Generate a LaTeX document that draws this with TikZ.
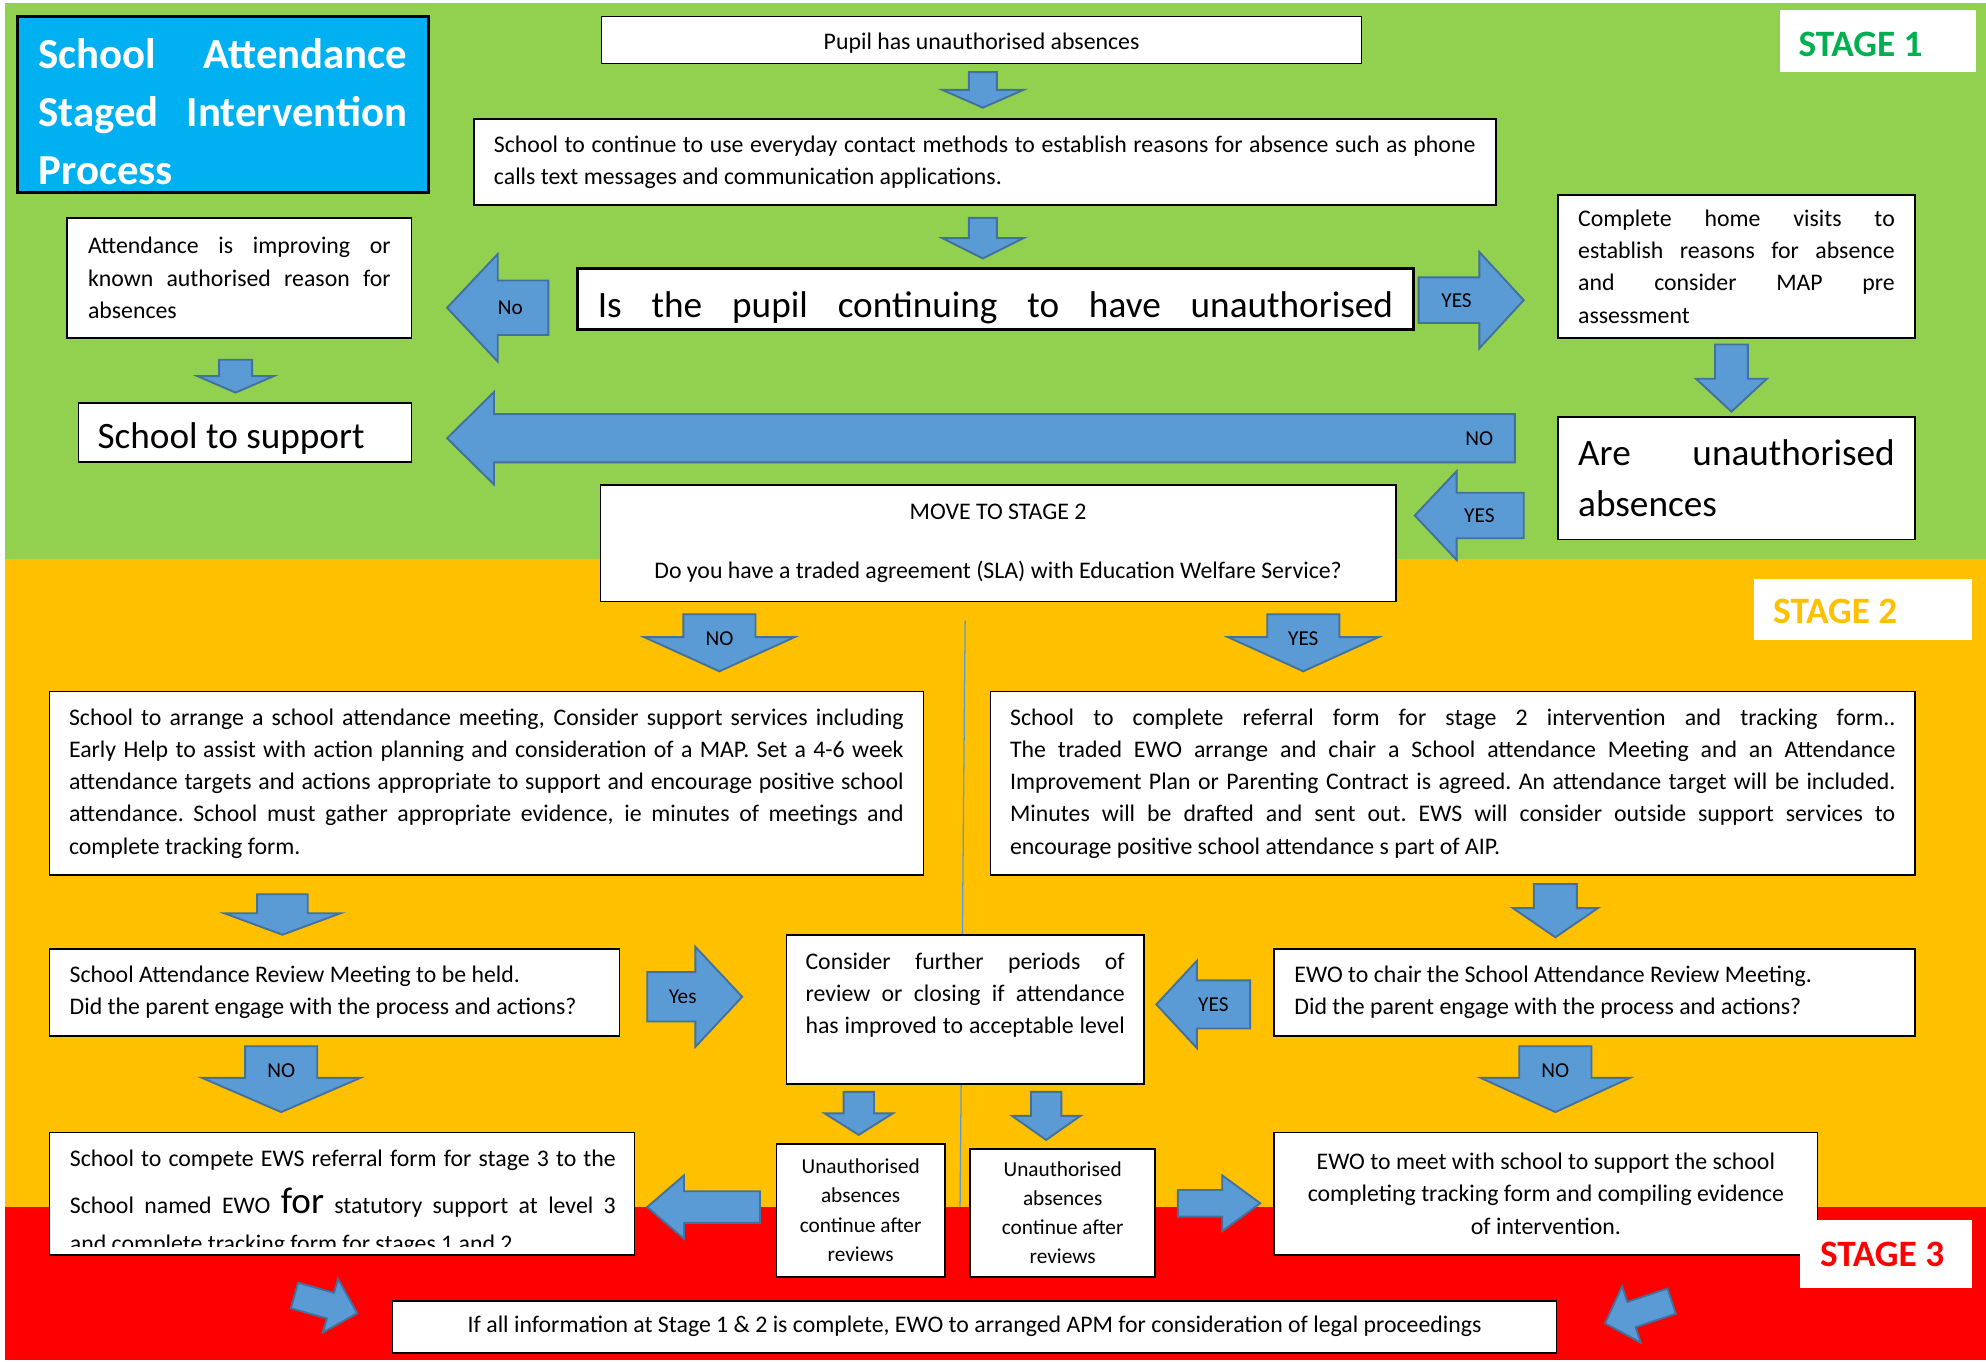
\documentclass[tikz,border=0pt]{standalone}
\usepackage{fontspec}
\setmainfont{Carlito}
\definecolor{bggreen}{HTML}{92D050}
\definecolor{bgorange}{HTML}{FFC000}
\definecolor{bgred}{HTML}{FF0000}
\definecolor{titleblue}{HTML}{00B0F0}
\definecolor{arrowfill}{HTML}{5B9BD5}
\definecolor{arrowline}{HTML}{41719C}
\definecolor{stagegreen}{HTML}{00B050}
\newcommand\nsp{\spaceskip=\fontdimen2\font\xspaceskip=\fontdimen2\font\relax}
\newcommand\fbase{\fontsize{18.8}{25.5}\selectfont\nsp}
\newcommand\fbig{\fontsize{29.4}{40}\selectfont\nsp}
\newcommand\flbl{\fontsize{16.8}{20}\selectfont\nsp}
\newcommand\fsmall{\fontsize{16.8}{23}\selectfont\nsp}
\newcommand\ftitle{\bfseries\fontsize{33.8}{46}\selectfont\nsp}
\newcommand\fstage{\bfseries\fontsize{29.4}{32}\selectfont\nsp}
\newcommand\jus[2]{\makebox[#1][s]{\spaceskip=\fontdimen2\font plus 1fil\xspaceskip=\fontdimen2\font plus 1fil\relax #2}}
% block arrow: name, tail, angle, length, shaft width, head width, head length, label pos, label
\newcommand{\blockarr}[9]{%
  \begin{scope}[shift={#2}, rotate=#3]
    \draw[barrow] (0,{-#5/2}) -- ({#4-#7},{-#5/2}) -- ({#4-#7},{-#6/2}) -- (#4,0)
      -- ({#4-#7},{#6/2}) -- ({#4-#7},{#5/2}) -- (0,{#5/2}) -- cycle;
    \node[arrlbl] (#1) at (#8,0) {#9};
  \end{scope}}
\begin{document}
\begin{tikzpicture}[x=1pt,y=-1pt,
  every node/.style={execute at begin node={\nsp}},
  box/.style={draw=black, line width=1.3pt, fill=white, inner sep=0pt, align=left, font=\fbase},
  cbox/.style={box, align=center},
  barrow/.style={fill=arrowfill, draw=arrowline, line width=1.5pt, line join=miter},
  arrlbl/.style={font=\flbl, inner sep=0pt},
  stagebox/.style={fill=white, inner sep=0pt, align=left, font=\fstage},
  vline/.style={draw=arrowfill, line width=1pt}]
\useasboundingbox (0,0) rectangle (1568,1075);
% backgrounds
\fill[bggreen] (4,2) rectangle (1568,441);
\fill[bgorange] (4,441) rectangle (1568,953);
\fill[bgred] (4,953) rectangle (1568,1074);
% thin vertical line
\coordinate (vt) at (762,490);
\coordinate (vb) at (758,953);
\draw[vline] (vt) -- (vb);

% ---------- STAGE 1 ----------
\node[box, fill=titleblue, line width=2.2pt, minimum width=324pt, minimum height=139pt,
  text width=291pt, font=\ftitle, text=white, text height=30pt, text depth=87pt] (title) at (176,82.5)
  {\jus{291pt}{School Attendance}\\ \jus{291pt}{Staged Intervention}\\ Process};

\node[stagebox, minimum width=155pt, minimum height=49pt, text width=125pt, text=stagegreen,
  text height=24pt, text depth=0pt] (s1) at (1482.5,32.5) {STAGE 1};

\node[cbox, minimum width=600pt, minimum height=37pt, text height=16pt, text depth=1pt] (pupil) at (775,31.5)
  {Pupil has unauthorised absences};

\node[box, minimum width=807pt, minimum height=68pt, text width=775pt] (cont) at (777.5,128)
  {\jus{775pt}{School to continue to use everyday contact methods to establish reasons for absence such as phone}\\
   calls text messages and communication applications.};

\node[box, line width=2pt, minimum width=660pt, minimum height=48pt, text width=628pt, font=\fbig,
  text height=36pt, text depth=7pt]
  (q1) at (786,236) {\jus{628pt}{Is the pupil continuing to have unauthorised}};

\node[box, minimum width=282pt, minimum height=113pt, text width=250pt] (home) at (1371,210.5)
  {\jus{250pt}{Complete home visits to}\\ \jus{250pt}{establish reasons for absence}\\
   \jus{250pt}{and consider MAP pre}\\ assessment};

\node[box, minimum width=282pt, minimum height=97pt, text width=250pt, font=\fbig]
  (are) at (1371,377.5) {\jus{250pt}{Are unauthorised}\\ absences};

\node[box, minimum width=272pt, minimum height=95pt, text width=239pt] (imp) at (189,219.5)
  {\jus{239pt}{Attendance is improving or}\\ \jus{239pt}{known authorised reason for}\\ absences};

\node[box, minimum width=263pt, minimum height=47pt, text width=233pt, font=\fbig,
  text height=32pt, text depth=7pt]
  (support) at (193.5,341.5) {School to support};

\node[cbox, minimum width=628pt, minimum height=92pt, text width=600pt] (move) at (788,429)
  {MOVE TO STAGE 2\\[21.5pt] Do you have a traded agreement (SLA) with Education Welfare Service?};

% stage 1 arrows
\blockarr{a1}{(776,57)}{-90}{28}{22}{64}{14}{10}{}
\blockarr{a2}{(776,172)}{-90}{32}{22}{64}{16}{10}{}
\blockarr{yes1}{(1120,237)}{0}{83}{36}{76}{35}{30}{YES}
\blockarr{a4}{(1367,272)}{-90}{53}{26}{56}{26}{10}{}
\blockarr{no2}{(1196,346)}{180}{843}{38}{73}{37}{28}{NO}
\blockarr{yes2}{(1203,407)}{180}{86}{36}{70}{33}{35}{YES}
\blockarr{no1}{(433,243)}{180}{80}{43}{85}{40}{30}{No}
\blockarr{a8}{(186,284)}{-90}{26}{26}{60}{13}{8}{}

% ---------- STAGE 2 ----------
\node[stagebox, minimum width=172pt, minimum height=48pt, text width=142pt, text=bgorange,
  text height=23pt, text depth=0pt] (s2) at (1471,481) {STAGE 2};

\blockarr{no3}{(568,485)}{-90}{45}{57}{119}{27}{19}{NO}
\blockarr{yes3}{(1029,485)}{-90}{45}{57}{119}{27}{19}{YES}

\node[box, minimum width=690pt, minimum height=145pt, text width=659pt] (lbig) at (384,618.5)
  {\jus{659pt}{School to arrange a school attendance meeting, Consider support services including}\\
   \jus{659pt}{Early Help to assist with action planning and consideration of a MAP. Set a 4-6 week}\\
   \jus{659pt}{attendance targets and actions appropriate to support and encourage positive school}\\
   \jus{659pt}{attendance. School must gather appropriate evidence, ie minutes of meetings and}\\
   complete tracking form.};

\node[box, minimum width=730pt, minimum height=145pt, text width=699pt] (rbig) at (1147,618.5)
  {\jus{699pt}{School to complete referral form for stage 2 intervention and tracking form..}\\
   \jus{699pt}{The traded EWO arrange and chair a School attendance Meeting and an Attendance}\\
   \jus{699pt}{Improvement Plan or Parenting Contract is agreed. An attendance target will be included.}\\
   \jus{699pt}{Minutes will be drafted and sent out. EWS will consider outside support services to}\\
   encourage positive school attendance s part of AIP.};

\blockarr{a11}{(223,706)}{-90}{32}{40}{92}{17}{8}{}
\blockarr{a12}{(1228,698)}{-90}{42}{34}{67}{23}{10}{}

\node[box, minimum width=450pt, minimum height=69pt, text width=418pt] (rev) at (264,783.5)
  {School Attendance Review Meeting to be held.\\ Did the parent engage with the process and actions?};

\node[box, minimum width=282pt, minimum height=118pt, text width=252pt] (cons) at (762,797)
  {\jus{252pt}{Consider further periods of}\\ \jus{252pt}{review or closing if attendance}\\
   \jus{252pt}{has improved to acceptable level}\\ \mbox{}};

\node[box, minimum width=506pt, minimum height=69pt, text width=474pt] (ewo) at (1259,783.5)
  {EWO to chair the School Attendance Review Meeting.\\ Did the parent engage with the process and actions?};

\blockarr{yes4}{(511,787)}{0}{75}{39}{79}{37}{28}{Yes}
\blockarr{yes5}{(987,793)}{180}{74}{38}{69}{32}{29}{YES}
\blockarr{no4}{(222,826)}{-90}{52}{57}{125}{27}{19}{NO}
\blockarr{no5}{(1228,826)}{-90}{52}{57}{118}{27}{19}{NO}
\blockarr{a17}{(678,862)}{-90}{34}{24}{54}{17}{8}{}
\blockarr{a18}{(826,862)}{-90}{38}{24}{54}{19}{8}{}

\node[cbox, minimum width=133pt, minimum height=105pt, text width=123pt, font=\fsmall]
  (un1) at (679.5,955.5) {Unauthorised\\ absences\\ continue after\\ reviews};
\node[cbox, minimum width=146pt, minimum height=101pt, text width=136pt, font=\fsmall]
  (un2) at (839,957.5) {Unauthorised\\ absences\\ continue after\\ reviews};

\node[box, minimum width=462pt, minimum height=97pt] (comp) at (270,942.5) {};
\begin{scope}
  \clip (40,895) rectangle (500,984.5);
  \node[anchor=north west, inner sep=0pt, text width=431pt, align=left, font=\fbase]
    (comptext) at (55,908)
    {\jus{431pt}{School to compete EWS referral form for stage 3 to the}\\[11.3pt]
     \jus{431pt}{School named EWO {\fbig for} statutory support at level 3}\\[4.5pt]
     and complete tracking form for stages 1 and 2};
\end{scope}

\node[cbox, minimum width=429pt, minimum height=97pt, text width=400pt] (meet) at (1220.5,942.5)
  {EWO to meet with school to support the school\\ completing tracking form and compiling evidence\\ of intervention.};

\blockarr{a19}{(600,953)}{180}{89}{25}{50}{29}{10}{}
\blockarr{a20}{(930,950)}{0}{65}{21}{44}{30}{10}{}

% ---------- STAGE 3 ----------
\node[stagebox, minimum width=136pt, minimum height=54pt, text width=104pt, text=bgred]
  (s3) at (1489,990) {STAGE 3};

\node[cbox, minimum width=919pt, minimum height=41pt, text width=900pt] (apm) at (769.5,1047.5)
  {If all information at Stage 1 \& 2 is complete, EWO to arranged APM for consideration of legal proceedings};

\blockarr{a21}{(232.5,1022.8)}{-15.8}{51.5}{21}{44}{22}{10}{}
\blockarr{a22}{(1319.8,1027.3)}{198.4}{55.4}{21}{47}{22}{10}{}
\end{tikzpicture}
\end{document}
